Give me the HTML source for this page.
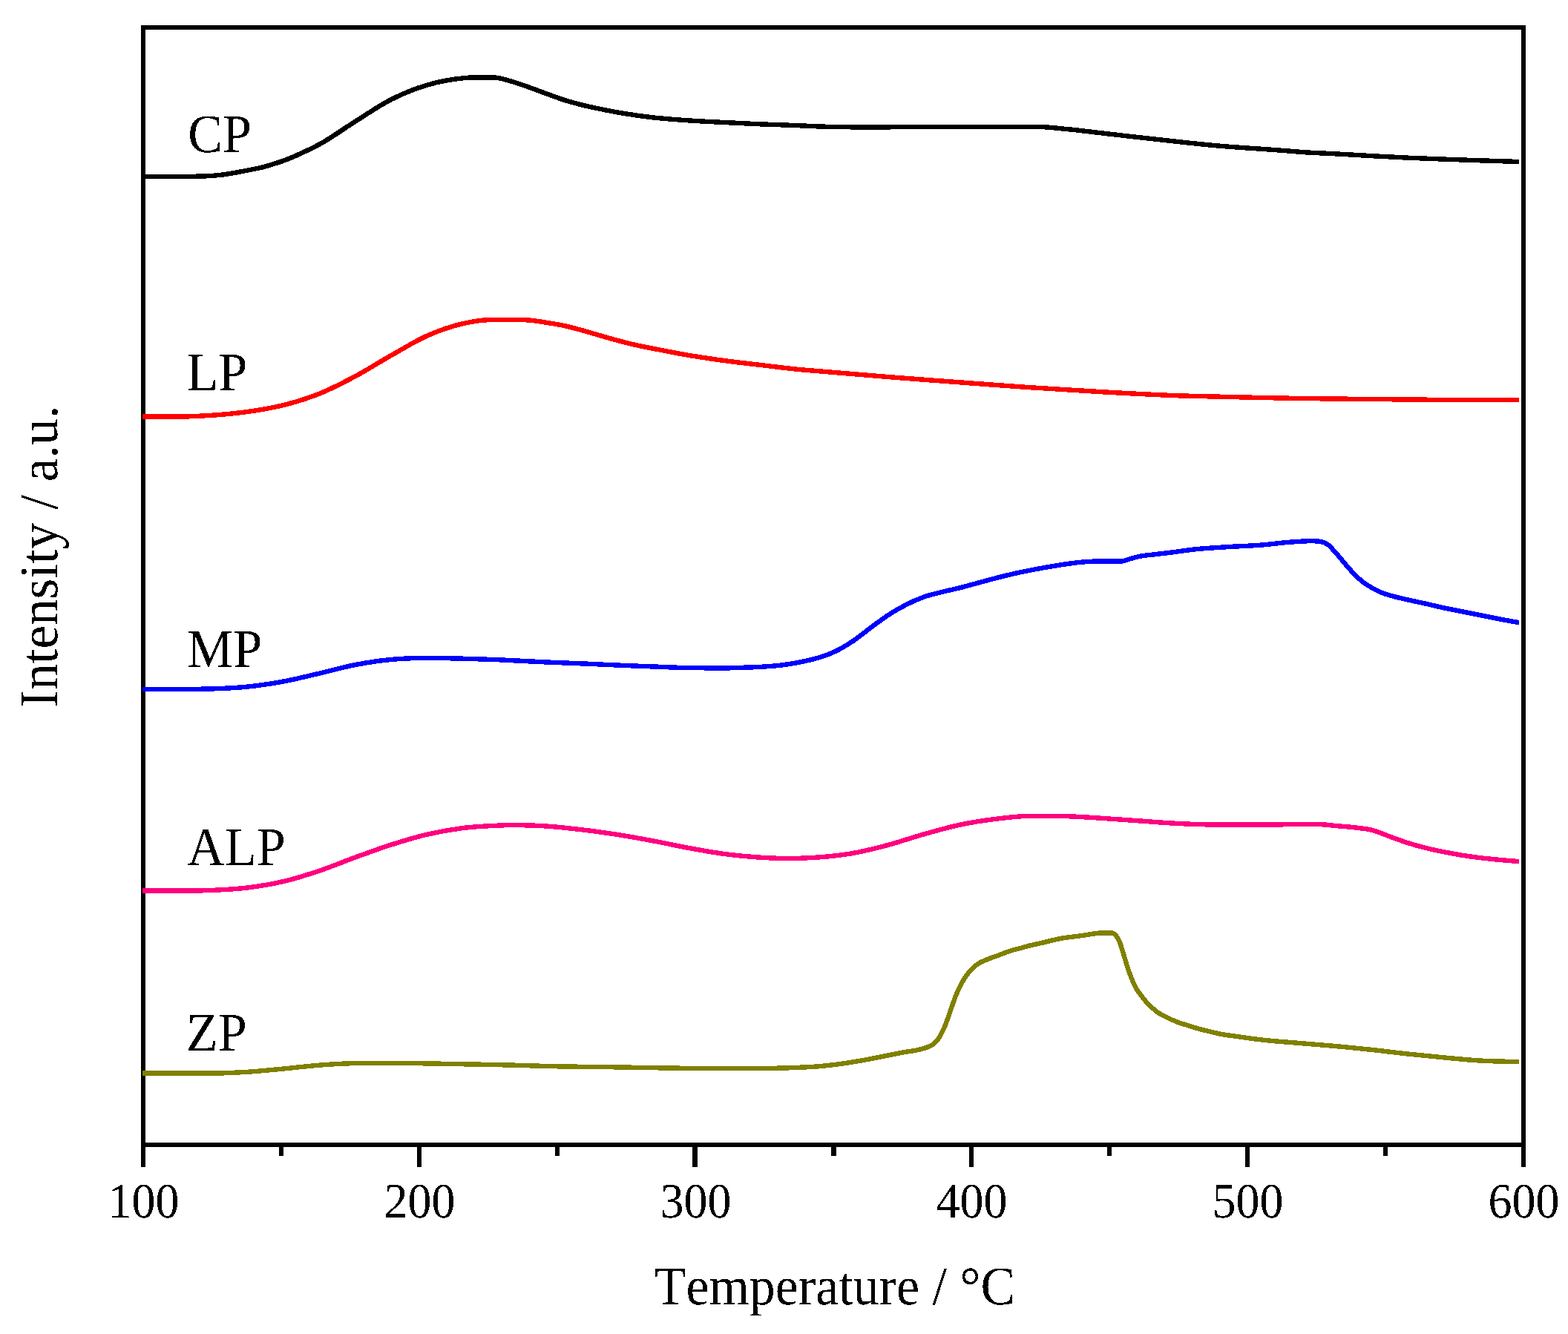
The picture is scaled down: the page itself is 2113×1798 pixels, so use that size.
<!DOCTYPE html>
<html lang="en"><head><meta charset="utf-8"><title>Temperature programmed profiles</title>
<style>html,body{margin:0;padding:0;background:#fff}body{width:2113px;height:1798px;overflow:hidden}svg{display:block}text{font-family:"Liberation Serif","DejaVu Serif",serif;fill:#000;font-kerning:none;font-variant-ligatures:none;text-rendering:geometricPrecision}</style>
</head><body>
<svg width="2113" height="1798" viewBox="0 0 2113 1798">
<rect width="2113" height="1798" fill="#fff"/>
<defs><filter id="bin" x="-5%" y="-5%" width="110%" height="110%" color-interpolation-filters="sRGB"><feComponentTransfer><feFuncA type="discrete" tableValues="0 1"/></feComponentTransfer></filter></defs>
<g fill="#000" shape-rendering="crispEdges">
<rect x="190" y="34" width="1866" height="6"/>
<rect x="190" y="1540" width="1866" height="6"/>
<rect x="190" y="34" width="6" height="1539"/>
<rect x="2050" y="34" width="6" height="1539"/>
<rect x="562" y="1543" width="6" height="30"/>
<rect x="933" y="1543" width="7" height="30"/>
<rect x="1306" y="1543" width="6" height="30"/>
<rect x="1678" y="1543" width="6" height="30"/>
<rect x="376" y="1543" width="6" height="15"/>
<rect x="748" y="1543" width="6" height="15"/>
<rect x="1120" y="1543" width="7" height="15"/>
<rect x="1492" y="1543" width="6" height="15"/>
<rect x="1864" y="1543" width="6" height="15"/>
</g>
<g fill="none" stroke-width="6.4" stroke-linejoin="round" stroke-linecap="butt" shape-rendering="crispEdges">
<path stroke="#000000" d="M192.0 238.0C205.3 238.0 218.7 238.0 232.0 238.0C238.0 238.0 244.0 238.0 250.0 237.9C254.7 237.9 259.3 237.8 264.0 237.7C268.6 237.6 273.2 237.5 277.8 237.3C282.0 237.1 286.1 236.9 290.3 236.5C294.5 236.1 298.7 235.7 302.9 235.1C307.1 234.5 311.2 233.7 315.4 233.0C319.6 232.3 323.8 231.5 328.0 230.7C332.2 229.9 336.3 229.0 340.5 228.2C344.7 227.3 348.8 226.6 353.0 225.6C357.2 224.6 361.4 223.3 365.6 222.0C369.8 220.7 373.9 219.4 378.1 218.0C382.3 216.5 386.5 215.0 390.7 213.3C394.9 211.6 399.0 209.7 403.2 207.8C412.5 203.6 421.9 199.2 431.2 194.1C447.3 185.4 463.3 173.3 479.4 163.3C495.5 153.2 511.6 141.9 527.7 133.8C543.8 125.7 559.9 119.3 576.0 114.5C592.1 109.8 608.1 106.8 624.2 105.3C629.5 104.8 634.7 104.3 640.0 104.3C648.0 104.3 656.0 104.3 664.0 104.3C672.1 104.3 680.1 107.2 688.2 109.4C696.3 111.6 704.3 114.6 712.4 117.5C720.4 120.3 728.5 123.4 736.5 126.3C744.5 129.2 752.6 132.3 760.6 134.9C768.6 137.4 776.7 139.6 784.7 141.6C792.7 143.6 800.8 145.2 808.8 146.9C816.9 148.5 824.9 150.2 833.0 151.6C841.0 153.0 849.0 154.2 857.0 155.4C865.1 156.5 873.1 157.6 881.2 158.5C897.3 160.3 913.3 161.4 929.4 162.5C945.5 163.6 961.6 164.3 977.7 165.1C993.8 165.9 1009.9 166.7 1026.0 167.4C1042.0 168.0 1058.0 168.4 1074.0 169.1C1082.7 169.5 1091.3 170.0 1100.0 170.3C1115.3 170.9 1130.7 171.3 1146.0 171.3C1164.0 171.3 1182.0 171.3 1200.0 171.3C1213.3 171.3 1226.7 171.3 1240.0 171.2C1246.7 171.1 1253.3 170.8 1260.0 170.8C1290.0 170.7 1320.0 170.7 1350.0 170.7C1365.0 170.7 1380.0 170.7 1395.0 170.8C1398.0 170.8 1401.0 171.0 1404.0 171.1C1408.0 171.3 1412.0 171.6 1416.0 171.9C1421.3 172.3 1426.7 173.0 1432.0 173.5C1437.3 174.0 1442.7 174.5 1448.0 175.1C1458.5 176.2 1469.1 177.6 1479.6 178.8C1506.1 181.9 1532.7 185.0 1559.2 187.9C1585.8 190.8 1612.3 193.9 1638.9 196.3C1669.3 199.0 1699.6 200.5 1730.0 203.0C1737.7 203.6 1745.3 204.3 1753.0 204.9C1769.0 206.1 1785.0 206.5 1801.0 207.4C1817.1 208.3 1833.3 209.3 1849.4 210.2C1865.5 211.1 1881.6 212.0 1897.7 212.7C1913.8 213.4 1929.9 214.0 1946.0 214.6C1962.0 215.2 1978.0 215.8 1994.0 216.3C2011.7 216.9 2029.3 217.4 2047.0 218.0"/>
<path stroke="#ff0000" d="M192.0 561.6C207.4 561.6 222.8 561.6 238.2 561.6C254.3 561.6 270.4 560.8 286.5 559.7C302.6 558.6 318.6 557.1 334.7 554.8C350.8 552.5 366.9 549.9 383.0 545.8C399.1 541.8 415.1 536.8 431.2 530.3C447.3 523.8 463.3 515.4 479.4 506.8C495.5 498.2 511.6 487.8 527.7 478.7C543.8 469.7 559.9 459.5 576.0 452.4C592.1 445.3 608.1 439.7 624.2 436.1C636.2 433.4 648.3 431.2 660.3 431.1C669.5 430.9 678.8 430.9 688.0 430.9C696.1 430.9 704.3 430.9 712.4 431.5C720.4 432.0 728.5 433.6 736.5 434.8C744.5 436.1 752.6 437.3 760.6 439.1C768.6 440.8 776.7 443.1 784.7 445.3C792.7 447.5 800.8 450.0 808.8 452.3C816.9 454.6 824.9 457.0 833.0 459.1C841.0 461.2 849.0 463.3 857.0 465.1C865.1 466.9 873.1 468.4 881.2 470.0C897.3 473.2 913.3 476.4 929.4 479.1C945.5 481.8 961.6 484.1 977.7 486.3C993.8 488.5 1009.9 490.2 1026.0 492.1C1042.0 494.0 1058.0 496.1 1074.0 497.7C1090.1 499.3 1106.3 500.4 1122.4 501.8C1147.1 503.9 1171.8 506.0 1196.5 508.0C1228.7 510.6 1260.8 512.9 1293.0 515.3C1325.1 517.7 1357.3 520.1 1389.4 522.3C1421.6 524.5 1453.8 526.5 1486.0 528.3C1518.1 530.1 1550.3 531.9 1582.4 533.1C1607.1 534.0 1631.8 534.4 1656.5 535.0C1688.7 535.8 1720.8 536.5 1753.0 537.0C1785.1 537.5 1817.3 537.7 1849.4 538.0C1881.6 538.3 1913.8 538.9 1946.0 538.9C1979.7 538.9 2013.3 538.9 2047.0 538.9"/>
<path stroke="#0000ff" d="M192.0 928.9C207.4 928.9 222.8 928.9 238.2 928.9C254.3 928.9 270.4 928.9 286.5 928.4C302.6 927.9 318.6 927.2 334.7 925.5C350.8 923.8 366.9 921.3 383.0 918.3C399.1 915.3 415.1 911.1 431.2 907.4C447.3 903.7 463.3 899.0 479.4 895.9C495.5 892.8 511.6 890.4 527.7 888.9C543.8 887.4 559.9 886.9 576.0 886.9C592.1 886.9 608.1 887.3 624.2 887.7C640.3 888.1 656.3 888.7 672.4 889.3C693.8 890.2 715.1 891.6 736.5 892.5C752.6 893.2 768.6 893.7 784.7 894.4C800.8 895.1 816.9 895.9 833.0 896.6C849.1 897.3 865.1 897.9 881.2 898.5C897.3 899.1 913.3 900.0 929.4 900.2C945.5 900.4 961.6 900.4 977.7 900.4C985.7 900.4 993.8 900.0 1001.8 899.7C1009.9 899.5 1017.9 899.3 1026.0 898.8C1034.0 898.3 1042.0 897.8 1050.0 896.9C1058.0 896.0 1066.0 894.6 1074.0 893.2C1082.1 891.6 1090.2 890.1 1098.3 887.8C1106.3 885.6 1114.4 883.1 1122.4 879.4C1131.0 875.6 1139.6 870.6 1148.2 864.9C1156.3 859.6 1164.3 852.8 1172.4 846.8C1180.4 840.9 1188.5 834.6 1196.5 829.3C1204.5 824.0 1212.6 819.4 1220.6 815.3C1228.6 811.2 1236.7 807.6 1244.7 804.7C1252.7 801.8 1260.8 800.0 1268.8 798.0C1276.9 795.9 1284.9 794.4 1293.0 792.4C1301.0 790.4 1309.0 788.1 1317.0 785.9C1325.1 783.7 1333.1 781.5 1341.2 779.4C1349.2 777.3 1357.3 775.3 1365.3 773.4C1373.3 771.6 1381.4 770.0 1389.4 768.4C1397.5 766.8 1405.5 765.4 1413.6 764.0C1421.6 762.6 1429.7 761.2 1437.7 760.1C1445.7 758.9 1453.8 757.9 1461.8 757.3C1469.9 756.7 1477.9 756.4 1486.0 756.4C1494.0 756.4 1502.0 756.7 1510.0 756.7C1514.0 756.7 1518.0 754.6 1522.0 753.5C1526.0 752.4 1530.0 751.1 1534.0 750.2C1542.1 748.4 1550.2 748.0 1558.3 747.0C1566.3 746.0 1574.4 745.1 1582.4 744.1C1590.9 743.0 1599.5 741.6 1608.0 740.6C1624.2 738.8 1640.3 738.1 1656.5 737.0C1672.6 736.0 1688.6 735.7 1704.7 734.2C1712.7 733.5 1720.8 732.3 1728.8 731.5C1736.9 730.8 1744.9 730.2 1753.0 729.7C1757.0 729.5 1761.0 729.2 1765.0 729.2C1769.0 729.2 1773.0 729.2 1777.0 729.6C1781.0 730.0 1785.0 731.0 1789.0 733.8C1793.1 736.6 1797.1 741.9 1801.2 746.4C1805.2 750.9 1809.3 756.1 1813.3 760.7C1817.3 765.3 1821.3 770.2 1825.3 774.2C1829.3 778.3 1833.4 781.9 1837.4 785.0C1841.4 788.1 1845.4 790.3 1849.4 792.6C1853.4 794.9 1857.5 797.0 1861.5 798.7C1865.5 800.4 1869.6 801.4 1873.6 802.6C1881.6 805.0 1889.7 806.7 1897.7 808.6C1905.7 810.4 1913.8 812.0 1921.8 813.8C1929.9 815.6 1937.9 817.7 1946.0 819.4C1954.0 821.1 1962.0 822.6 1970.0 824.2C1978.0 825.8 1986.0 827.4 1994.0 829.0C2002.1 830.6 2010.2 832.3 2018.3 833.9C2027.9 835.8 2037.4 837.4 2047.0 839.2"/>
<path stroke="#ff007f" d="M192.0 1200.6C207.4 1200.6 222.8 1200.6 238.2 1200.6C254.3 1200.6 270.4 1200.6 286.5 1199.9C302.6 1199.2 318.6 1198.3 334.7 1196.3C350.8 1194.3 366.9 1191.6 383.0 1187.8C399.1 1184.0 415.1 1178.8 431.2 1173.4C447.3 1168.0 463.3 1161.1 479.4 1155.3C495.5 1149.5 511.6 1143.5 527.7 1138.4C543.8 1133.3 559.9 1128.3 576.0 1124.6C592.1 1120.9 608.1 1118.0 624.2 1116.0C640.3 1114.0 656.3 1113.3 672.4 1112.6C677.7 1112.4 682.9 1112.1 688.2 1112.1C704.3 1112.1 720.4 1112.4 736.5 1113.5C752.6 1114.6 768.6 1116.5 784.7 1118.4C800.8 1120.3 816.9 1122.6 833.0 1125.1C849.1 1127.6 865.1 1130.6 881.2 1133.6C897.3 1136.6 913.3 1140.3 929.4 1143.2C945.5 1146.1 961.6 1149.1 977.7 1151.2C993.8 1153.3 1009.9 1154.8 1026.0 1155.8C1038.0 1156.5 1050.0 1157.0 1062.0 1157.0C1074.1 1157.0 1086.2 1156.6 1098.3 1155.8C1114.9 1154.7 1131.6 1153.1 1148.2 1150.2C1164.3 1147.4 1180.4 1143.3 1196.5 1139.0C1212.6 1134.7 1228.6 1129.0 1244.7 1124.5C1260.8 1119.9 1276.9 1115.3 1293.0 1111.8C1309.1 1108.4 1325.1 1105.9 1341.2 1103.9C1357.3 1101.9 1373.3 1099.8 1389.4 1099.8C1405.5 1099.8 1421.6 1099.8 1437.7 1100.2C1453.8 1100.6 1469.9 1101.9 1486.0 1102.9C1502.0 1103.9 1518.0 1105.1 1534.0 1106.3C1550.1 1107.4 1566.3 1108.8 1582.4 1109.7C1599.1 1110.6 1615.7 1111.4 1632.4 1111.4C1648.5 1111.4 1664.5 1111.3 1680.6 1111.3C1696.7 1111.3 1712.7 1111.3 1728.8 1111.3C1744.9 1111.3 1760.9 1111.1 1777.0 1111.1C1785.1 1111.1 1793.1 1112.4 1801.2 1113.1C1809.2 1113.8 1817.3 1114.4 1825.3 1115.3C1833.3 1116.3 1841.4 1116.9 1849.4 1119.0C1857.5 1121.0 1865.5 1124.9 1873.6 1127.8C1881.6 1130.7 1889.7 1133.7 1897.7 1136.3C1905.7 1138.8 1913.8 1141.0 1921.8 1143.0C1929.9 1145.1 1937.9 1146.7 1946.0 1148.3C1954.0 1149.9 1962.0 1151.4 1970.0 1152.7C1978.0 1154.0 1986.0 1155.1 1994.0 1156.1C2002.1 1157.1 2010.2 1157.9 2018.3 1158.7C2027.9 1159.6 2037.4 1160.3 2047.0 1161.1"/>
<path stroke="#808000" d="M192.0 1446.6C223.5 1446.6 255.0 1446.6 286.5 1446.6C302.6 1446.6 318.6 1445.7 334.7 1444.7C350.8 1443.7 366.9 1441.9 383.0 1440.4C399.1 1438.9 415.1 1436.8 431.2 1435.6C447.3 1434.4 463.3 1433.3 479.4 1433.1C495.5 1432.9 511.6 1432.9 527.7 1432.9C543.8 1432.9 559.9 1433.2 576.0 1433.4C592.1 1433.6 608.1 1434.0 624.2 1434.3C646.1 1434.7 668.1 1435.0 690.0 1435.6C705.5 1436.0 721.0 1436.6 736.5 1437.0C768.7 1437.8 800.8 1437.9 833.0 1438.4C865.1 1438.9 897.3 1439.6 929.4 1439.9C953.5 1440.1 977.7 1440.1 1001.8 1440.1C1025.9 1440.1 1049.9 1440.0 1074.0 1438.9C1082.7 1438.5 1091.3 1438.2 1100.0 1437.5C1109.6 1436.8 1119.3 1435.7 1128.9 1434.5C1138.6 1433.2 1148.2 1431.7 1157.9 1430.0C1167.5 1428.3 1177.2 1426.4 1186.8 1424.5C1196.5 1422.6 1206.1 1420.6 1215.8 1418.7C1225.4 1416.8 1235.1 1416.3 1244.7 1413.1C1247.1 1412.3 1249.6 1411.6 1252.0 1410.5C1254.4 1409.3 1256.8 1408.4 1259.2 1406.1C1261.6 1403.9 1264.0 1401.1 1266.4 1397.1C1268.8 1393.1 1271.3 1388.0 1273.7 1382.1C1276.1 1376.3 1278.5 1368.6 1280.9 1361.9C1283.3 1355.2 1285.7 1347.9 1288.1 1341.9C1290.5 1335.9 1293.0 1330.6 1295.4 1326.0C1297.8 1321.5 1300.2 1317.9 1302.6 1314.6C1305.0 1311.2 1307.4 1308.3 1309.8 1305.9C1312.2 1303.4 1314.7 1301.5 1317.1 1299.7C1321.9 1296.2 1326.7 1294.7 1331.5 1292.7C1336.3 1290.6 1341.2 1289.2 1346.0 1287.4C1350.8 1285.6 1355.7 1283.5 1360.5 1281.9C1365.3 1280.3 1370.2 1279.3 1375.0 1278.0C1379.8 1276.7 1384.6 1275.2 1389.4 1274.1C1392.9 1273.2 1396.5 1272.6 1400.0 1271.8C1409.6 1269.7 1419.3 1266.8 1428.9 1265.0C1438.6 1263.2 1448.2 1262.4 1457.9 1261.1C1467.5 1259.8 1477.2 1257.3 1486.8 1257.3C1490.7 1257.3 1494.5 1257.3 1498.4 1257.4C1500.3 1257.5 1502.3 1259.0 1504.2 1261.5C1505.6 1263.3 1507.1 1265.5 1508.5 1268.9C1510.0 1272.3 1511.4 1277.5 1512.9 1282.2C1514.3 1286.7 1515.8 1292.0 1517.2 1296.6C1519.1 1302.8 1521.1 1308.7 1523.0 1313.9C1525.4 1320.3 1527.8 1325.9 1530.2 1330.5C1532.6 1335.1 1535.1 1338.1 1537.5 1341.5C1539.9 1344.8 1542.3 1347.7 1544.7 1350.5C1549.5 1356.0 1554.4 1360.2 1559.2 1363.8C1564.0 1367.4 1568.9 1369.5 1573.7 1371.9C1578.5 1374.3 1583.3 1376.3 1588.1 1378.1C1592.9 1379.9 1597.8 1381.2 1602.6 1382.7C1607.4 1384.2 1612.3 1385.9 1617.1 1387.2C1621.9 1388.5 1626.7 1389.4 1631.5 1390.6C1636.3 1391.7 1641.2 1393.1 1646.0 1394.0C1650.8 1394.9 1655.7 1395.4 1660.5 1396.1C1665.3 1396.8 1670.2 1397.5 1675.0 1398.2C1684.9 1399.6 1694.8 1400.9 1704.7 1402.0C1720.8 1403.8 1736.9 1404.7 1753.0 1406.1C1769.1 1407.5 1785.1 1408.7 1801.2 1410.2C1817.3 1411.7 1833.3 1413.3 1849.4 1415.0C1865.5 1416.7 1881.6 1418.9 1897.7 1420.6C1913.8 1422.3 1929.9 1423.9 1946.0 1425.4C1962.0 1426.9 1978.0 1428.6 1994.0 1429.5C2002.1 1430.0 2010.2 1430.3 2018.3 1430.5C2027.9 1430.8 2037.4 1430.8 2047.0 1431.0"/>
</g>
<g filter="url(#bin)">
<text transform="translate(193.40 1641.00) scale(0.9567 1.0000)" font-size="66.9" text-anchor="middle" filter="url(#bin)">100</text>
<text transform="translate(565.40 1641.00) scale(0.9567 1.0000)" font-size="66.9" text-anchor="middle" filter="url(#bin)">200</text>
<text transform="translate(937.40 1641.00) scale(0.9567 1.0000)" font-size="66.9" text-anchor="middle" filter="url(#bin)">300</text>
<text transform="translate(1309.40 1641.00) scale(0.9567 1.0000)" font-size="66.9" text-anchor="middle" filter="url(#bin)">400</text>
<text transform="translate(1681.40 1641.00) scale(0.9567 1.0000)" font-size="66.9" text-anchor="middle" filter="url(#bin)">500</text>
<text transform="translate(2053.40 1641.00) scale(0.9567 1.0000)" font-size="66.9" text-anchor="middle" filter="url(#bin)">600</text>
<text transform="translate(1124.85 1758.00) scale(0.9545 1.0000)" font-size="73.3" text-anchor="middle" filter="url(#bin)">Temperature / °C</text>
<text transform="translate(77.10 749.84) rotate(-90) scale(0.9711 1.0000)" font-size="73.3" text-anchor="middle" filter="url(#bin)">Intensity / a.u.</text>
<text transform="translate(253.16 205.00) scale(0.9560 1.0000)" font-size="73.3" text-anchor="start" filter="url(#bin)">CP</text>
<text transform="translate(251.53 526.00) scale(0.9560 1.0000)" font-size="73.3" text-anchor="start" filter="url(#bin)">LP</text>
<text transform="translate(251.90 899.00) scale(0.9560 1.0000)" font-size="73.3" text-anchor="start" filter="url(#bin)">MP</text>
<text transform="translate(252.32 1166.00) scale(0.9560 1.0000)" font-size="73.3" text-anchor="start" filter="url(#bin)">ALP</text>
<text transform="translate(250.99 1416.00) scale(0.9560 1.0000)" font-size="73.3" text-anchor="start" filter="url(#bin)">ZP</text>
</g>
</svg></body></html>
